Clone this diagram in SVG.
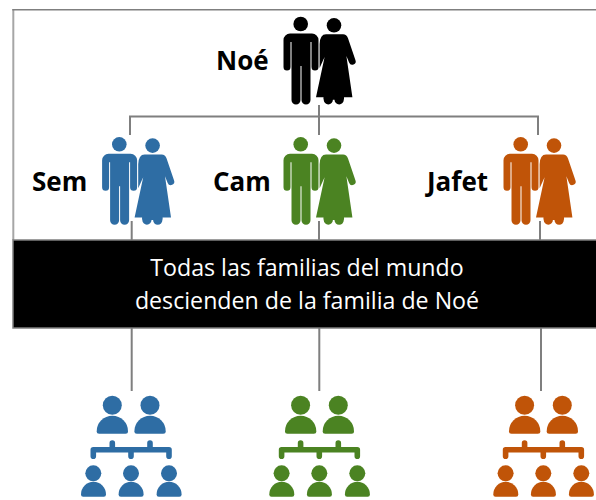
<svg xmlns="http://www.w3.org/2000/svg" width="596" height="500" viewBox="0 0 596 500">
<style>
.lbl{font-family:"Open Sans","Liberation Sans",sans-serif;font-weight:700;font-size:26px;fill:#000}
.band{font-family:"Open Sans","Liberation Sans",sans-serif;font-size:23.2px;fill:#fff;text-anchor:middle}
.ln{stroke:#7f7f7f;stroke-width:2;fill:none}
.w{stroke:#fff;stroke-width:.9;paint-order:stroke}
.brk{stroke-width:5.6;stroke-linecap:round;stroke-linejoin:round;fill:none}
</style>
<defs>
<g id="couple">
<circle cx="300.7" cy="24" r="7.3"/>
<path d="M289.5 33.5H312a6.5 6.5 0 0 1 6.5 6.5V67a3.5 3.5 0 0 1-7 0V42h-1V100a4.5 4.5 0 0 1-9 0V66h-1V100a4.5 4.5 0 0 1-9 0V42h-1V67a3.5 3.5 0 0 1-7 0V40a6.5 6.5 0 0 1 6.5-6.5z"/>
<circle cx="334" cy="25.3" r="7.3"/>
<path class="w" d="M326 34.3H343q3.6 0 5 4L355.4 60a3.4 3.4 0 0 1-6.3 2.6L346.4 56 352.4 97.3H344a4.6 4.6 0 0 1-.2 2.5 4.6 4.6 0 0 1-9.3 0h-1.6a4.6 4.6 0 0 1-9.2 0 4.6 4.6 0 0 1-.2-2.5H316L324.6 57 319.6 68V44Q320 34.3 326 34.3z"/>
</g>
<g id="family">
<circle cx="112.3" cy="405.3" r="9.5"/><circle cx="150" cy="405.3" r="9.5"/>
<path d="M96.7 431.2A15.65 15.5 0 0 1 128 431.2a2.5 2.5 0 0 1-2.5 2.5H99.2A2.5 2.5 0 0 1 96.7 431.2z"/>
<path d="M134.4 431.2A15.65 15.5 0 0 1 165.7 431.2a2.5 2.5 0 0 1-2.5 2.5H136.9A2.5 2.5 0 0 1 134.4 431.2z"/>
<circle cx="93.3" cy="473.3" r="8"/><circle cx="131" cy="473.3" r="8"/><circle cx="169" cy="473.3" r="8"/>
<path d="M81 494.5A12.5 12.8 0 0 1 106 494.5a2.2 2.2 0 0 1-2.2 2.2H83.2A2.2 2.2 0 0 1 81 494.5z"/>
<path d="M118.6 494.5A12.5 12.8 0 0 1 143.6 494.5a2.2 2.2 0 0 1-2.2 2.2H120.8A2.2 2.2 0 0 1 118.6 494.5z"/>
<path d="M156.6 494.5A12.5 12.8 0 0 1 181.6 494.5a2.2 2.2 0 0 1-2.2 2.2H158.8A2.2 2.2 0 0 1 156.6 494.5z"/>
<path class="brk" d="M93.3 456.3V449.7H169V456.3M131 449.7V456.3M112.3 443V449.7M150 443V449.7"/>
</g>
</defs>
<g id="connectors">
<path d="M13.3 240V9" stroke="#a6a6a6" stroke-width="2" fill="none"/>
<path d="M12.3 9.7H596" stroke="#7f7f7f" stroke-width="1.5" fill="none"/>
<path class="ln" d="M130 135V116.5H538V135M319 105V135M131.7 221V240M319 221V240M540 221V240M131.7 328V391M319.3 328V391M541 328V391"/>
</g>
<g id="banner">
<rect x="13" y="240" width="590" height="88" fill="#000" stroke="#7f7f7f" stroke-width="1.5"/>
<text class="band" x="307" y="276">Todas las familias del mundo</text>
<text class="band" x="307" y="309">descienden de la familia de Noé</text>
</g>
<g id="noe">
<use href="#couple" fill="#000"/>
<text class="lbl" x="216" y="70">Noé</text>
</g>
<g id="sem">
<use href="#couple" x="-181.4" y="120.3" fill="#2e6da4"/>
<text class="lbl" x="32" y="191">Sem</text>
</g>
<g id="cam">
<use href="#couple" y="120.3" fill="#4b8322"/>
<text class="lbl" x="213" y="191">Cam</text>
</g>
<g id="jafet">
<use href="#couple" x="220" y="120.3" fill="#c05408"/>
<text class="lbl" x="427" y="191">Jafet</text>
</g>
<g id="family-sem" fill="#2e6da4"><use href="#family" style="stroke:#2e6da4;stroke-width:0"/></g>
<g id="family-cam" fill="#4b8322"><use href="#family" x="188.3" style="stroke:#4b8322;stroke-width:0"/></g>
<g id="family-jafet" fill="#c05408"><use href="#family" x="412.3" style="stroke:#c05408;stroke-width:0"/></g>
</svg>
